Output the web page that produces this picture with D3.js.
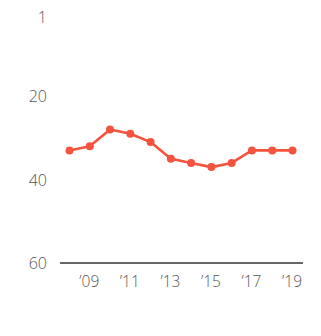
<!DOCTYPE html>
<html>
<head>
<meta charset="utf-8">
<script src="https://cdn.jsdelivr.net/npm/d3@7"></script>
<style>
  html, body { margin: 0; padding: 0; background: #fff; }
  svg text { font-family: "Open Sans", Lato, sans-serif; font-weight: 300; fill: #555; }
</style>
</head>
<body>
<svg id="chart" width="321" height="336"></svg>
<script>
// Yearly ranking, 2008–2019 (lower rank number = better, plotted at top)
const years = [2008, 2009, 2010, 2011, 2012, 2013, 2014, 2015, 2016, 2017, 2018, 2019];
const ranks = [33, 32, 28, 29, 31, 35, 36, 37, 36, 33, 33, 33];
const yTicks = [1, 20, 40, 60];
const xTicks = [2009, 2011, 2013, 2015, 2017, 2019];

const svg = d3.select("#chart");
const color = "#f4533e";

const x = d3.scaleLinear().domain([2008, 2019]).range([69.5, 292.5]);
const y = d3.scaleLinear().domain([1, 60]).range([17, 263]);

// y-axis labels (no line, no ticks)
const yAxis = d3.axisLeft(y).tickValues(yTicks).tickSize(0).tickPadding(0)
  .tickFormat(d => String(d));
const gy = svg.append("g").attr("transform", "translate(47,0)").call(yAxis);
gy.select(".domain").remove();
gy.selectAll("text").style("font-size", "16px").attr("dy", "0.35em");

// baseline
svg.append("line")
  .attr("x1", 60).attr("x2", 303)
  .attr("y1", y(60)).attr("y2", y(60))
  .attr("stroke", "#333").attr("stroke-width", 1.5);

// x-axis labels
const xAxis = d3.axisBottom(x).tickValues(xTicks).tickSize(0).tickPadding(0)
  .tickFormat(d => "\u2019" + String(d).slice(2));
const gx = svg.append("g").attr("transform", `translate(-1,${y(60) + 13})`).call(xAxis);
gx.select(".domain").remove();
gx.selectAll("text").style("font-size", "15.5px").attr("dy", "0.71em");

const data = years.map((yr, i) => ({ yr, r: ranks[i] }));

svg.append("path")
  .datum(data)
  .attr("fill", "none")
  .attr("stroke", color)
  .attr("stroke-width", 2.6)
  .attr("stroke-linejoin", "round")
  .attr("d", d3.line().x(d => x(d.yr)).y(d => y(d.r)));

svg.selectAll("circle.pt")
  .data(data)
  .join("circle")
  .attr("class", "pt")
  .attr("cx", d => x(d.yr))
  .attr("cy", d => y(d.r))
  .attr("r", 4)
  .attr("fill", color);
</script>
</body>
</html>
